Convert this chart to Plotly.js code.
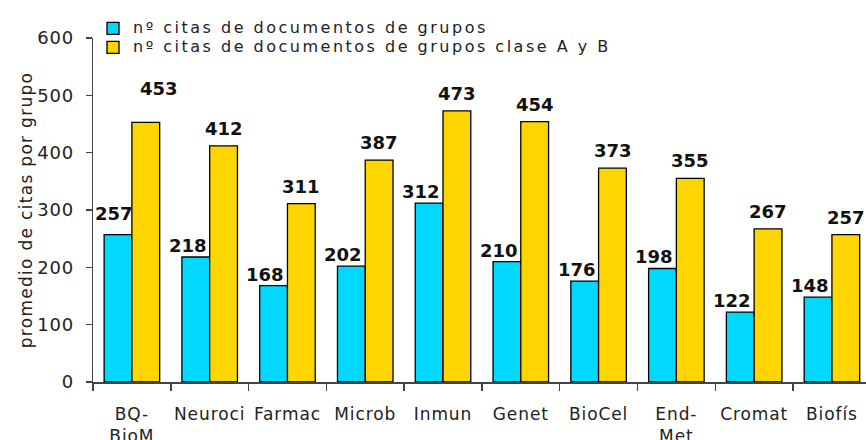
<!DOCTYPE html>
<html>
<head>
<meta charset="utf-8">
<script src="https://cdn.plot.ly/plotly-3.0.1.min.js"></script>
<style>
html,body{margin:0;padding:0;background:#fff;}
#chart{width:866px;height:440px;}
.legendtext{letter-spacing:2.5px; font-size:16px !important;}
.ytitle{letter-spacing:1.3px;}
.xtick text{letter-spacing:0.9px;}
.ytick text{letter-spacing:0.8px;}
</style>
</head>
<body>
<div id="chart"></div>
<script>
// ---- data ----
const categories = ["BQ-<br>BioM", "Neuroci", "Farmac", "Microb", "Inmun", "Genet", "BioCel", "End-<br>Met", "Cromat", "Biofís"];
const citasGrupos = [257, 218, 168, 202, 312, 210, 176, 198, 122, 148];
const citasGruposAB = [453, 412, 311, 387, 473, 454, 373, 355, 267, 257];
const seriesNames = ["nº citas de documentos de grupos", "nº citas de documentos de grupos clase A y B"];
const yTicks = [0, 100, 200, 300, 400, 500, 600];

// ---- styles ----
const FONT = "DejaVu Sans, Verdana, sans-serif";
const cyan = "#00D8FF";
const yellow = "#FFD500";

const traces = [
  {
    type: "bar", name: seriesNames[0], x: categories, y: citasGrupos,
    marker: {color: cyan, line: {color: "#000", width: 1.3}},
    hoverinfo: "none"
  },
  {
    type: "bar", name: seriesNames[1], x: categories, y: citasGruposAB,
    marker: {color: yellow, line: {color: "#000", width: 1.3}},
    hoverinfo: "none"
  }
];

// value labels (manual nudges for the two labels moved in the original)
const nudgeCyan = {0: {dx: 4.5, dy: 10}};
const nudgeYellow = {0: {dx: 13.5, dy: 16}};
const annotations = [];
categories.forEach((c, i) => {
  const nc = nudgeCyan[i] || {dx: 0, dy: 0};
  const ny = nudgeYellow[i] || {dx: 0, dy: 0};
  annotations.push({
    x: c, y: citasGrupos[i], xref: "x", yref: "y", text: String(citasGrupos[i]),
    showarrow: false, xanchor: "center", yanchor: "bottom",
    xshift: -22 + nc.dx, yshift: -1 + nc.dy,
    font: {family: FONT, size: 18, weight: "bold", color: "#111"}
  });
  annotations.push({
    x: c, y: citasGruposAB[i], xref: "x", yref: "y", text: String(citasGruposAB[i]),
    showarrow: false, xanchor: "center", yanchor: "bottom",
    xshift: 14 + ny.dx, yshift: 5 + ny.dy,
    font: {family: FONT, size: 18, weight: "bold", color: "#111"}
  });
});

const layout = {
  width: 866, height: 440,
  margin: {l: 93, r: 0, t: 38, b: 58, pad: 0},
  paper_bgcolor: "#fff", plot_bgcolor: "#fff",
  barmode: "group", bargap: 0.286, bargroupgap: 0,
  font: {family: FONT, color: "#222"},
  showlegend: true,
  legend: {
    x: 0.0, y: 1.07, xanchor: "left", yanchor: "top",
    bgcolor: "rgba(0,0,0,0)", borderwidth: 0,
    font: {family: FONT, size: 12, color: "#222"},
    tracegroupgap: 0, itemwidth: 30
  },
  xaxis: {
    type: "category", range: [-0.5, 9.438],
    showline: true, linecolor: "#444", linewidth: 1.5,
    ticks: "outside", tickson: "boundaries", ticklen: 7, tickcolor: "#444", tickwidth: 1.5,
    showgrid: false, zeroline: false,
    tickfont: {family: FONT, size: 17, color: "#222"},
    ticklabelstandoff: 16
  },
  yaxis: {
    range: [0, 600], tickvals: yTicks, ticktext: yTicks.map(String),
    showline: true, linecolor: "#444", linewidth: 1.5,
    ticks: "outside", ticklen: 6, tickcolor: "#444", tickwidth: 1.5,
    showgrid: false, zeroline: false,
    tickfont: {family: FONT, size: 18, color: "#222"},
    ticklabelstandoff: 8,
    title: {text: "promedio de citas por grupo", font: {family: FONT, size: 17, color: "#222"}, standoff: 0}
  },
  annotations: annotations
};

Plotly.newPlot("chart", traces, layout, {displayModeBar: false, staticPlot: true});
</script>
</body>
</html>
